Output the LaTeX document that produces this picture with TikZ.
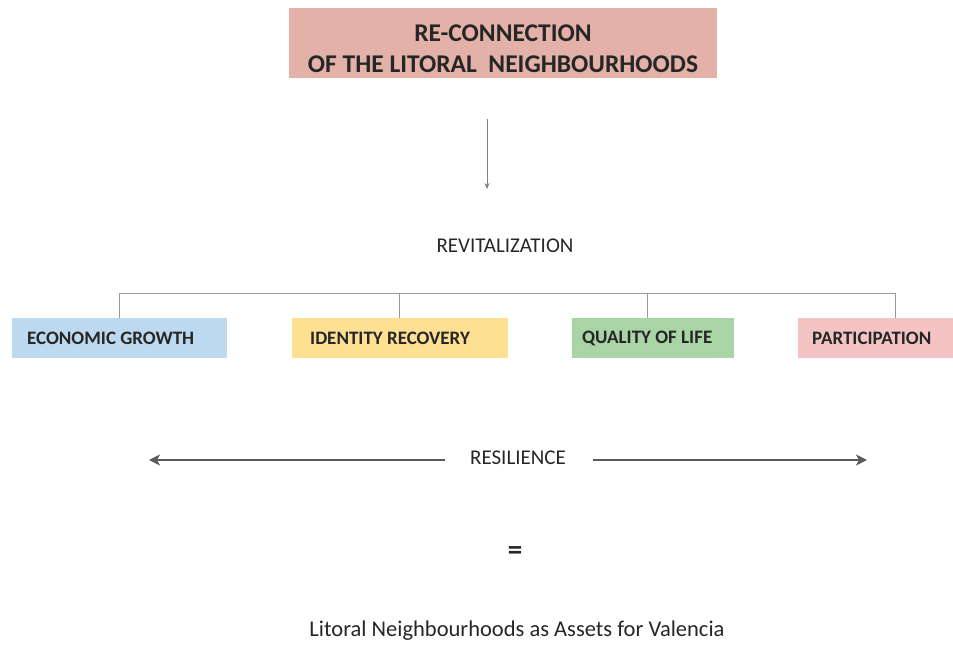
\documentclass[tikz,border=0pt]{standalone}
\usepackage{fontspec}
\setmainfont{Carlito}
\usetikzlibrary{arrows.meta}
\definecolor{titlefill}{HTML}{E3B1A8}
\definecolor{econfill}{HTML}{BDD9EF}
\definecolor{identfill}{HTML}{FEE092}
\definecolor{qualfill}{HTML}{A9D5A6}
\definecolor{partfill}{HTML}{F3C4C3}
\definecolor{txt}{HTML}{262626}
\definecolor{darkline}{HTML}{5A5A5A}
\tikzset{
  x=1pt, y=-1pt,
  every node/.style={text=txt, inner sep=0pt},
  catbox/.style={minimum height=40pt, anchor=north west},
  cattext/.style={font=\fontsize{19}{22}\selectfont\bfseries, anchor=west},
  plainlbl/.style={font=\fontsize{21}{24}\selectfont},
  treeline/.style={draw=gray!80, line width=0.9pt},
  bigarrow/.style={draw=darkline, line width=2.6pt, -{Stealth[length=11pt,width=11pt,inset=3pt]}},
}
\begin{document}
\begin{tikzpicture}
\useasboundingbox (0,0) rectangle (953,653);
% title
\node[fill=titlefill, minimum width=428pt, minimum height=70pt, anchor=north west] (title) at (289,8) {};
\node[align=center, font=\fontsize{25.5}{31}\selectfont\bfseries] (titlet) at (503,49) {RE-CONNECTION\\OF THE LITORAL\ \ NEIGHBOURHOODS};
\coordinate (a1) at (487,119);
\coordinate (a2) at (487,189);
\draw[gray, line width=0.9pt, -{Stealth[length=6pt,width=5pt]}] (a1) -- (a2);
\node[plainlbl] (revit) at (505,246) {REVITALIZATION};
% boxes
\node[catbox, fill=econfill, minimum width=215pt] (econ) at (12,318) {};
\node[catbox, fill=identfill, minimum width=216pt] (ident) at (292,318) {};
\node[catbox, fill=qualfill, minimum width=162pt] (qual) at (572,318) {};
\node[catbox, fill=partfill, minimum width=155pt] (part) at (798,318) {};
\node[cattext] (econt) at (27,338) {ECONOMIC GROWTH};
\node[cattext] (identt) at (310,338) {IDENTITY RECOVERY};
\node[cattext] (qualt) at (582,338) {QUALITY OF LIFE};
\node[cattext] (partt) at (812,338) {PARTICIPATION};
% tree
\coordinate (t1) at (119,318);
\coordinate (t2) at (399,318);
\coordinate (t3) at (647,318);
\coordinate (t4) at (895,318);
\draw[treeline] (t1) -- (119,293) -- (895,293) -- (t4);
\draw[treeline] (399,293) -- (t2);
\draw[treeline] (647,293) -- (t3);
% resilience
\node[plainlbl] (res) at (518,458) {RESILIENCE};
\coordinate (rl) at (149,460);
\coordinate (rr) at (867,460);
\coordinate (rls) at (445,460);
\coordinate (rrs) at (593,460);
\draw[bigarrow] (rls) -- (rl);
\draw[bigarrow] (rrs) -- (rr);
\node[font=\fontsize{29}{32}\selectfont\bfseries] (eq) at (515,553) {=};
\node[font=\fontsize{22.5}{26}\selectfont] (final) at (517,631) {Litoral Neighbourhoods as Assets for Valencia};
\end{tikzpicture}
\end{document}
